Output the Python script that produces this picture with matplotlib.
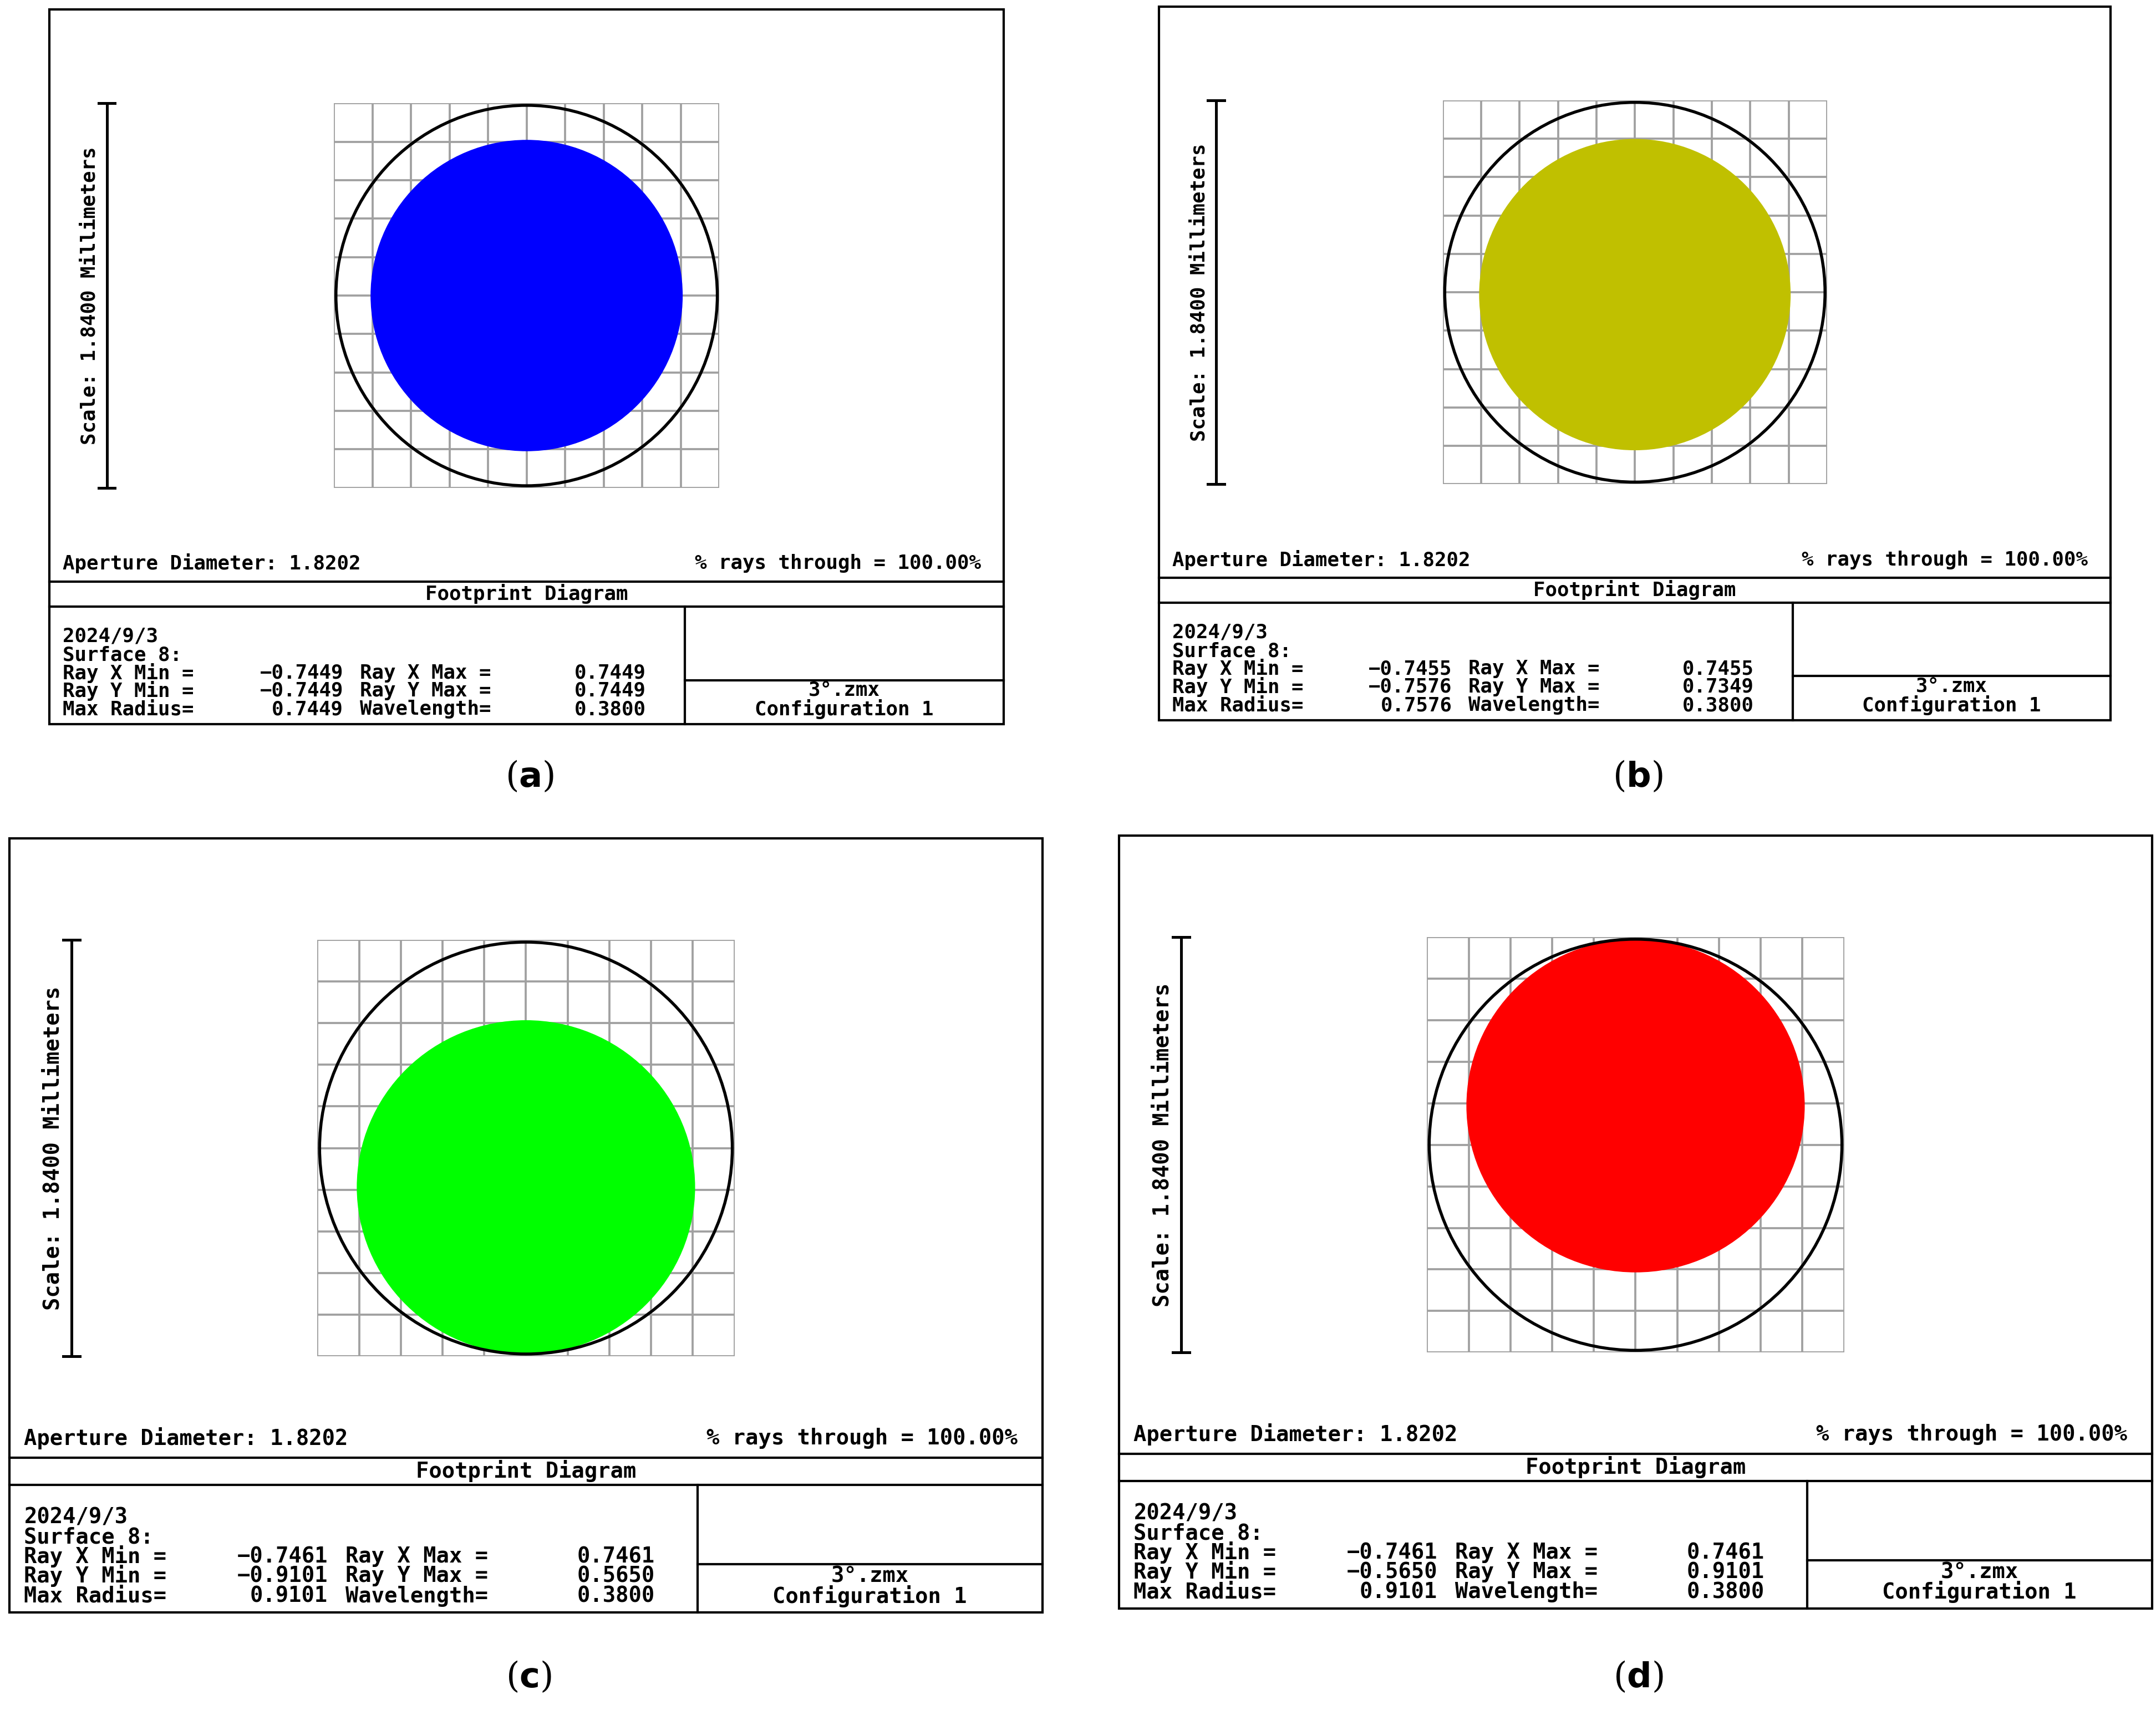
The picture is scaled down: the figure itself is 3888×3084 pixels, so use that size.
import matplotlib
matplotlib.use("Agg")
import matplotlib.pyplot as plt
from matplotlib.patches import Circle, Ellipse, Rectangle

W, H = 1568, 1244  # layout units (scaled reference)

PANEL_LABELS = ["a", "b", "c", "d"]
FILL_COLORS = ["#0000ff", "#c0c000", "#00ff00", "#ff0000"]
RAY_X_MIN = [-0.7449, -0.7455, -0.7461, -0.7461]
RAY_X_MAX = [0.7449, 0.7455, 0.7461, 0.7461]
RAY_Y_MIN = [-0.7449, -0.7576, -0.9101, -0.5650]
RAY_Y_MAX = [0.7449, 0.7349, 0.5650, 0.9101]
MAX_RADIUS = [0.7449, 0.7576, 0.9101, 0.9101]
WAVELENGTH = 0.3800
APERTURE_DIAMETER = 1.8202
SCALE_MM = 1.84
DATE = "2024/9/3"
SURFACE = 8

BOXES = [(36, 7, 730, 527), (843, 5, 1535, 524), (7, 610, 758, 1173), (814, 608, 1565, 1170)]
CAPTION_Y = [565, 565, 1220, 1220]

fig = plt.figure(figsize=(12.96, 10.28), dpi=300)
ov = fig.add_axes([0, 0, 1, 1])
ov.set_xlim(0, W)
ov.set_ylim(H, 0)
ov.axis("off")

MONO = dict(family="DejaVu Sans Mono", fontweight="bold", color="black")


def draw_panel(i):
    x0, y0, x1, y1 = BOXES[i]
    w, h = x1 - x0, y1 - y0
    fs = 8.6 * w / 694
    X = lambda f: x0 + f * w
    Y = lambda f: y0 + f * h
    lw = 1.0
    ov.add_patch(Rectangle((x0, y0), w, h, fill=False, lw=lw, color="black"))
    for f in (0.80, 0.835):
        ov.plot([x0, x1], [Y(f), Y(f)], color="black", lw=lw)
    ov.plot([X(0.666), X(0.666)], [Y(0.835), y1], color="black", lw=lw)
    ov.plot([X(0.666), x1], [Y(0.938), Y(0.938)], color="black", lw=lw)

    # scale bar
    gy0, gy1 = Y(0.131), Y(0.669)
    bx = X(0.06)
    ov.plot([bx, bx], [gy0, gy1], color="black", lw=1.2)
    for yy in (gy0, gy1):
        ov.plot([bx - 6, bx + 6], [yy, yy], color="black", lw=1.2)
    ov.text(X(0.042), (gy0 + gy1) / 2, f"Scale: {SCALE_MM:.4f} Millimeters", rotation=90,
            ha="center", va="center", fontsize=fs, **MONO)

    ov.text(X(0.014), Y(0.775), f"Aperture Diameter: {APERTURE_DIAMETER:.4f}", ha="left", va="center", fontsize=fs, **MONO)
    ov.text(X(0.976), Y(0.775), "% rays through = 100.00%", ha="right", va="center", fontsize=fs, **MONO)
    ov.text((x0 + x1) / 2, Y(0.817), "Footprint Diagram", ha="center", va="center", fontsize=fs, **MONO)

    rows = [0.877, 0.903, 0.928, 0.953, 0.979]
    ov.text(X(0.014), Y(rows[0]), DATE, ha="left", va="center", fontsize=fs, **MONO)
    ov.text(X(0.014), Y(rows[1]), f"Surface {SURFACE}:", ha="left", va="center", fontsize=fs, **MONO)
    table = [("Ray X Min =", RAY_X_MIN[i], "Ray X Max =", RAY_X_MAX[i]),
             ("Ray Y Min =", RAY_Y_MIN[i], "Ray Y Max =", RAY_Y_MAX[i]),
             ("Max Radius=", MAX_RADIUS[i], "Wavelength=", WAVELENGTH)]
    for r, (l1, v1, l2, v2) in zip(rows[2:], table):
        ov.text(X(0.014), Y(r), l1, ha="left", va="center", fontsize=fs, **MONO)
        ov.text(X(0.308), Y(r), f"{v1:.4f}".replace("-", "\u2212"), ha="right", va="center", fontsize=fs, **MONO)
        ov.text(X(0.325), Y(r), l2, ha="left", va="center", fontsize=fs, **MONO)
        ov.text(X(0.625), Y(r), f"{v2:.4f}", ha="right", va="center", fontsize=fs, **MONO)
    ov.text(X(0.833), Y(0.953), "3°.zmx", ha="center", va="center", fontsize=fs, **MONO)
    ov.text(X(0.833), Y(0.979), "Configuration 1", ha="center", va="center", fontsize=fs, **MONO)

    ov.text((x0 + x1) / 2 + 2, CAPTION_Y[i], f"($\\mathbf{{{PANEL_LABELS[i]}}}$)", ha="center", va="center",
            fontsize=15, family="DejaVu Serif")

    # footprint plot
    gx0, gx1 = X(0.298), X(0.702)
    ax = fig.add_axes([gx0 / W, 1 - gy1 / H, (gx1 - gx0) / W, (gy1 - gy0) / H])
    half = SCALE_MM / 2
    ax.set_xlim(-half, half)
    ax.set_ylim(-half, half)
    ax.axis("off")
    step = SCALE_MM / 10
    for k in range(11):
        v = -half + k * step
        ax.plot([v, v], [-half, half], color="#a0a0a0", lw=0.9, zorder=1)
        ax.plot([-half, half], [v, v], color="#a0a0a0", lw=0.9, zorder=1)
    cx = (RAY_X_MIN[i] + RAY_X_MAX[i]) / 2
    cy = (RAY_Y_MIN[i] + RAY_Y_MAX[i]) / 2
    ax.add_patch(Ellipse((cx, cy), RAY_X_MAX[i] - RAY_X_MIN[i], RAY_Y_MAX[i] - RAY_Y_MIN[i],
                         color=FILL_COLORS[i], zorder=2, lw=0))
    ax.add_patch(Circle((0, 0), APERTURE_DIAMETER / 2, fill=False, color="black", lw=1.3, zorder=3))


for i in range(4):
    draw_panel(i)

fig.savefig("out.png", dpi=300, facecolor="white")
